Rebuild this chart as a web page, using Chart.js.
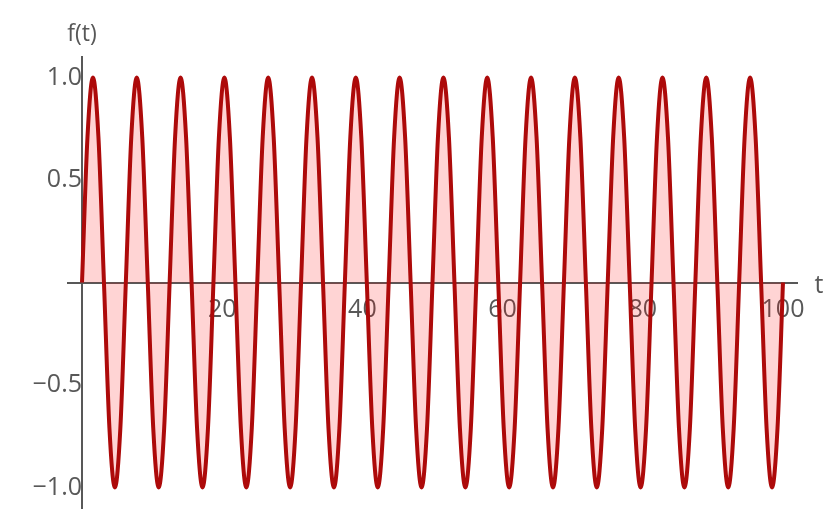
<!DOCTYPE html>
<html>
<head>
<meta charset="utf-8">
<script src="https://cdn.jsdelivr.net/npm/chart.js@4.4.1/dist/chart.umd.min.js"></script>
<style>
  html, body { margin: 0; padding: 0; background: #fff; overflow: hidden; }
  #wrap { position: relative; width: 836px; height: 522px; }
  #waveChart { display: block; }
</style>
</head>
<body>
<div id="wrap">
  <canvas id="waveChart" width="836" height="522"></canvas>
</div>
<script>
// sample points (16 full waves between t = 0 and t = 100)
const tValues = [
  0, 0.78, 1.56, 2.34, 3.13, 3.91, 4.69, 5.47,
  6.25, 7.03, 7.81, 8.59, 9.38, 10.16, 10.94, 11.72,
  12.5, 13.28, 14.06, 14.84, 15.63, 16.41, 17.19, 17.97,
  18.75, 19.53, 20.31, 21.09, 21.88, 22.66, 23.44, 24.22,
  25, 25.78, 26.56, 27.34, 28.13, 28.91, 29.69, 30.47,
  31.25, 32.03, 32.81, 33.59, 34.38, 35.16, 35.94, 36.72,
  37.5, 38.28, 39.06, 39.84, 40.63, 41.41, 42.19, 42.97,
  43.75, 44.53, 45.31, 46.09, 46.88, 47.66, 48.44, 49.22,
  50, 50.78, 51.56, 52.34, 53.13, 53.91, 54.69, 55.47,
  56.25, 57.03, 57.81, 58.59, 59.38, 60.16, 60.94, 61.72,
  62.5, 63.28, 64.06, 64.84, 65.63, 66.41, 67.19, 67.97,
  68.75, 69.53, 70.31, 71.09, 71.88, 72.66, 73.44, 74.22,
  75, 75.78, 76.56, 77.34, 78.13, 78.91, 79.69, 80.47,
  81.25, 82.03, 82.81, 83.59, 84.38, 85.16, 85.94, 86.72,
  87.5, 88.28, 89.06, 89.84, 90.63, 91.41, 92.19, 92.97,
  93.75, 94.53, 95.31, 96.09, 96.88, 97.66, 98.44, 99.22,
  100
];
const fValues = [
  0, 0.71, 1, 0.71, 0, -0.71, -1, -0.71,
  0, 0.71, 1, 0.71, 0, -0.71, -1, -0.71,
  0, 0.71, 1, 0.71, 0, -0.71, -1, -0.71,
  0, 0.71, 1, 0.71, 0, -0.71, -1, -0.71,
  0, 0.71, 1, 0.71, 0, -0.71, -1, -0.71,
  0, 0.71, 1, 0.71, 0, -0.71, -1, -0.71,
  0, 0.71, 1, 0.71, 0, -0.71, -1, -0.71,
  0, 0.71, 1, 0.71, 0, -0.71, -1, -0.71,
  0, 0.71, 1, 0.71, 0, -0.71, -1, -0.71,
  0, 0.71, 1, 0.71, 0, -0.71, -1, -0.71,
  0, 0.71, 1, 0.71, 0, -0.71, -1, -0.71,
  0, 0.71, 1, 0.71, 0, -0.71, -1, -0.71,
  0, 0.71, 1, 0.71, 0, -0.71, -1, -0.71,
  0, 0.71, 1, 0.71, 0, -0.71, -1, -0.71,
  0, 0.71, 1, 0.71, 0, -0.71, -1, -0.71,
  0, 0.71, 1, 0.71, 0, -0.71, -1, -0.71,
  0
];
const xTicks = [20, 40, 60, 80, 100];
const yTicks = [-1, -0.5, 0.5, 1];
const xTitle = 't';
const yTitle = 'f(t)';

const axisColor = '#585858';
const fontFamily = '"Open Sans", sans-serif';
const tickFont = { family: fontFamily, size: 25 };

function fmtY(v) {
  const s = Math.abs(v).toFixed(1);
  return v < 0 ? '\u2212' + s : s;
}

// the axes are drawn through the origin, so they should not reserve any space
function noSpace(s) {
  if (s.isHorizontal()) s.height = 0; else s.width = 0;
  s.paddingLeft = s.paddingRight = s.paddingTop = s.paddingBottom = 0;
}

// axis names sit at the ends of the axes, Mathematica style
const axisNames = {
  id: 'axisNames',
  afterDraw(chart) {
    const { ctx, scales: { x, y } } = chart;
    const x0 = x.getPixelForValue(0);
    const y0 = y.getPixelForValue(0);
    ctx.save();
    ctx.fillStyle = axisColor;
    ctx.textAlign = 'center';
    ctx.textBaseline = 'alphabetic';
    ctx.font = '25px ' + fontFamily;
    ctx.fillText(xTitle, x.right + 22, y0 + 10);
    ctx.font = '23px ' + fontFamily;
    ctx.fillText(yTitle, x0, y.top - 16);
    ctx.restore();
  },
};

const ctx = document.getElementById('waveChart').getContext('2d');
const waveChart = new Chart(ctx, {
  type: 'line',
  data: {
    labels: tValues,
    datasets: [{
      label: 'f(t)',
      data: fValues,
      borderColor: '#ad0a0a',
      borderWidth: 4,
      backgroundColor: 'rgba(255, 0, 0, 0.17)',
      fill: 'origin',
      pointRadius: 0,
      cubicInterpolationMode: 'monotone',
    }],
  },
  options: {
    responsive: false,
    animation: false,
    layout: { padding: { left: 68, right: 39, top: 57, bottom: 14 } },
    plugins: {
      legend: { display: false },
      tooltip: { enabled: false },
    },
    scales: {
      x: {
        type: 'linear',
        min: -2,
        max: 102,
        position: { y: 0 },
        afterFit: noSpace,
        afterBuildTicks: (s) => { s.ticks = xTicks.map(v => ({ value: v })); },
        grid: { display: false, drawTicks: false },
        border: { display: true, color: axisColor, width: 2 },
        ticks: { color: axisColor, font: tickFont, padding: 12, maxRotation: 0 },
      },
      y: {
        type: 'linear',
        min: -1.1,
        max: 1.1,
        position: { x: 0 },
        afterFit: noSpace,
        afterBuildTicks: (s) => { s.ticks = yTicks.map(v => ({ value: v })); },
        grid: { display: false, drawTicks: false },
        border: { display: true, color: axisColor, width: 2 },
        ticks: { color: axisColor, font: tickFont, padding: 12, callback: fmtY },
      },
    },
  },
  plugins: [axisNames],
});
</script>
</body>
</html>
